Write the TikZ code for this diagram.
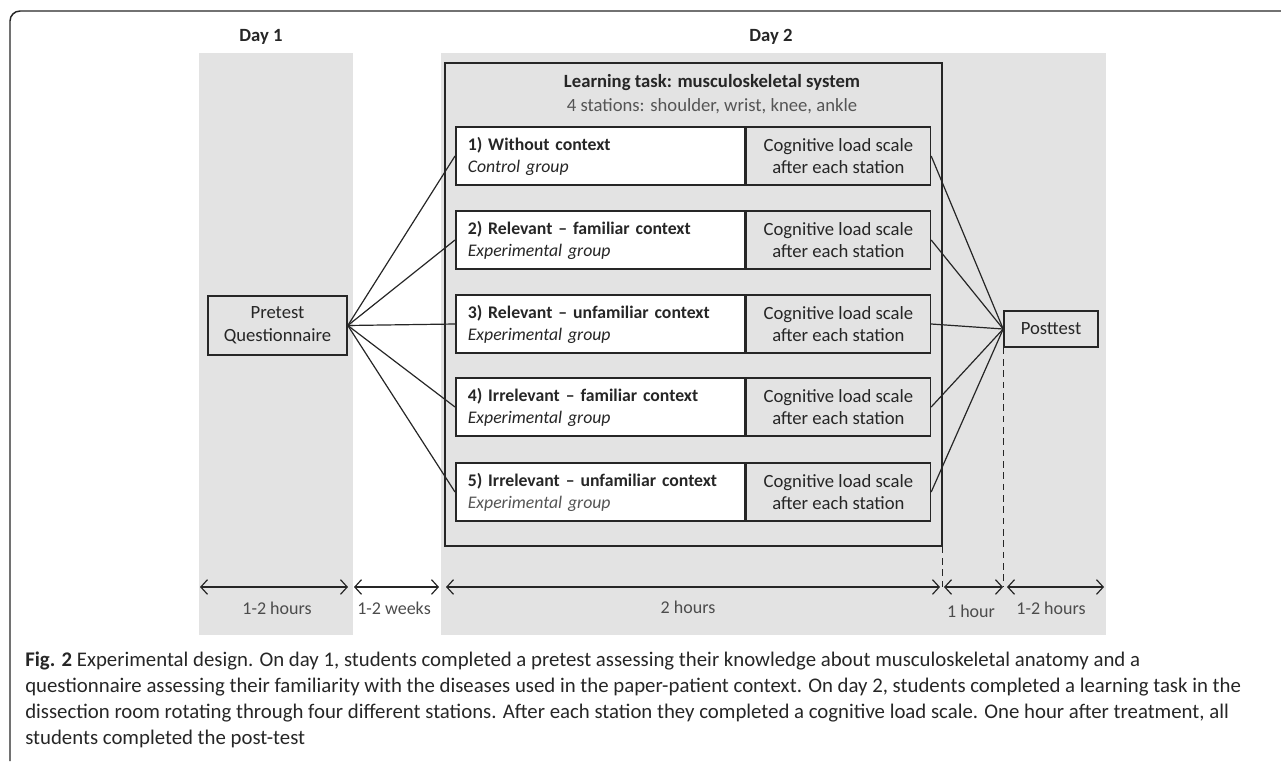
\documentclass[tikz,border=0pt]{standalone}
\usepackage{fontspec}
\setmainfont{Carlito}
\usetikzlibrary{arrows.meta}
\definecolor{daygrey}{HTML}{E3E3E3}
\definecolor{inkgrey}{HTML}{262626}
\definecolor{subgrey}{HTML}{555555}
\tikzset{
	ctxbox/.style={draw=inkgrey, line width=1.2pt, fill=white, anchor=west, text width=198.75pt, align=left, inner xsep=9pt, inner ysep=0pt, minimum height=43.5pt, font=\fontsize{13.3}{16.5}\selectfont},
	loadbox/.style={draw=inkgrey, line width=1.2pt, fill=daygrey, anchor=west, align=center, inner sep=0pt, minimum width=138pt, minimum height=43.5pt, font=\fontsize{14}{16.5}\selectfont},
	testbox/.style={draw=inkgrey, line width=1.2pt, fill=daygrey, align=center, inner sep=0pt, font=\fontsize{14}{17}\selectfont},
	link/.style={draw=inkgrey, line width=0.9pt},
	period/.style={link, {Straight Barb[length=5pt,width=11pt]}-{Straight Barb[length=5pt,width=11pt]}},
	timelabel/.style={text=black!70, font=\fontsize{13.5}{15}\selectfont}
}

\begin{document}
\begin{tikzpicture}[x=0.75pt, y=-0.75pt, every node/.style={text=inkgrey}]
			%%%%% START %%%%%
			\useasboundingbox (0,0) rectangle (1281,761);
			
			\draw[inkgrey, line width=1.1pt, rounded corners=7.5pt] (10,761) -- (10,11) -- (1290,11);
			
			\fill[daygrey] (199,53) rectangle (353,635);
			\fill[daygrey] (441,53) rectangle (1106,635);
			
			\node[font=\fontsize{14}{16}\selectfont\bfseries] (day1) at (261,37) {Day 1};
			\node[font=\fontsize{14}{16}\selectfont\bfseries] (day2) at (771,37) {Day 2};
			
			\node[draw=inkgrey, line width=1.2pt, inner sep=0pt, minimum width=372.75pt, minimum height=362.25pt] (task) at (693.5,304.5) {};
			\node[font=\fontsize{14}{16}\selectfont\bfseries] (tasktitle) at (712,83) {Learning task: musculoskeletal system};
			\node[text=subgrey, font=\fontsize{14}{16}\selectfont] (stations) at (712,106) {4 stations: shoulder, wrist, knee, ankle};
			
			\node[ctxbox] (ctx1) at (455,156) {\textbf{1) Without context}\\\textit{Control group}};
			\node[loadbox] (load1) at (ctx1.east) {Cognitive load scale\\after each station};
			\node[ctxbox] (ctx2) at (455,240) {\textbf{2) Relevant -- familiar context}\\\textit{Experimental group}};
			\node[loadbox] (load2) at (ctx2.east) {Cognitive load scale\\after each station};
			\node[ctxbox] (ctx3) at (455,324) {\textbf{3) Relevant -- unfamiliar context}\\\textit{Experimental group}};
			\node[loadbox] (load3) at (ctx3.east) {Cognitive load scale\\after each station};
			\node[ctxbox] (ctx4) at (455,407) {\textbf{4) Irrelevant -- familiar context}\\\textit{Experimental group}};
			\node[loadbox] (load4) at (ctx4.east) {Cognitive load scale\\after each station};
			\node[ctxbox] (ctx5) at (455,492) {\textbf{5) Irrelevant -- unfamiliar context}\\\textit{\textcolor{subgrey}{Experimental group}}};
			\node[loadbox] (load5) at (ctx5.east) {Cognitive load scale\\after each station};
			
			\node[testbox, minimum width=104.25pt, minimum height=44.25pt] (pre) at (277.5,325.5) {Pretest\\Questionnaire};
			\node[testbox, minimum width=70.5pt, minimum height=27pt] (post) at (1051,329) {Posttest};
			
			\draw[link] (pre.east) -- (ctx1.west);
			\draw[link] (pre.east) -- (ctx2.west);
			\draw[link] (pre.east) -- (ctx3.west);
			\draw[link] (pre.east) -- (ctx4.west);
			\draw[link] (pre.east) -- (ctx5.west);
			
			\draw[link] (load1.east) -- (post.west);
			\draw[link] (load2.east) -- (post.west);
			\draw[link] (load3.east) -- (post.west);
			\draw[link] (load4.east) -- (post.west);
			\draw[link] (load5.east) -- (post.west);
			
			% time line
			\coordinate (t0) at (200,587);
			\coordinate (t1) at (348,587);
			\coordinate (t2) at (354,587);
			\coordinate (t3) at (439,587);
			\coordinate (t4) at (446,587);
			\coordinate (t5) at (940,587);
			\coordinate (t6) at (944,587);
			\coordinate (t7) at (1003,587);
			\coordinate (t8) at (1007,587);
			\coordinate (t9) at (1104,587);
			
			\draw[link, dash pattern=on 5pt off 3.5pt] (task.south east) -- (task.south east |- t5);
			\draw[link, dash pattern=on 5pt off 3.5pt] (post.south west) -- (post.south west |- t7);
			
			\draw[period] (t0) -- (t1);
			\draw[period] (t2) -- (t3);
			\draw[period] (t4) -- (t5);
			\draw[period] (t6) -- (t7);
			\draw[period] (t8) -- (t9);
			
			\node[timelabel] (dur1) at (277,608) {1-2 hours};
			\node[timelabel] (dur2) at (394,608) {1-2 weeks};
			\node[timelabel] (dur3) at (688,607) {2 hours};
			\node[timelabel] (dur4) at (971,611) {1 hour};
			\node[timelabel] (dur5) at (1051,608) {1-2 hours};
			
			\node[anchor=north west, align=left, inner sep=0pt, text=inkgrey, font=\fontsize{15.6}{19.5}\selectfont] (caption) at (25,652) {\textbf{Fig. 2} Experimental design. On day 1, students completed a pretest assessing their knowledge about musculoskeletal anatomy and a\\
questionnaire assessing their familiarity with the diseases used in the paper-patient context. On day 2, students completed a learning task in the\\
dissection room rotating through four different stations. After each station they completed a cognitive load scale. One hour after treatment, all\\
students completed the post-test};
			
			%%%%% END %%%%%
\end{tikzpicture}
\end{document}
